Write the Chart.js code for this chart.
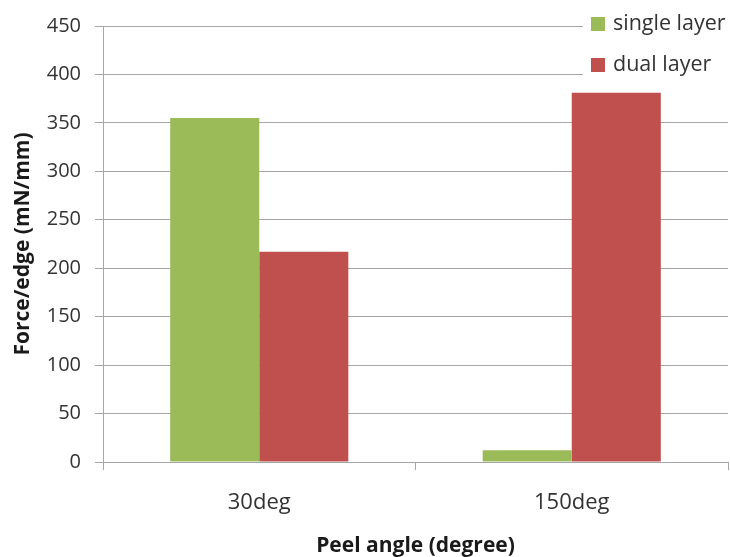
<!DOCTYPE html>
<html>
<head>
<meta charset="utf-8">
<script src="https://cdn.jsdelivr.net/npm/chart.js@4"></script>
<style>
  html, body { margin: 0; padding: 0; background: #fff; }
  #wrap { width: 730px; height: 557px; }
</style>
</head>
<body>
<div id="wrap"><canvas id="c" width="730" height="557"></canvas></div>
<script>
// Peel test results: force per edge at two peel angles
const categories = ['30deg', '150deg'];
const singleLayer = [355, 12];
const dualLayer = [217, 381];
const seriesNames = ['single layer', 'dual layer'];
const yTicks = { min: 0, max: 450, step: 50 };

const GREEN = '#9BBB59';
const RED = '#C0504D';
const GRID = '#A6A6A6';
const TEXT = '#333333';
const FONT = '"Open Sans", "DejaVu Sans", sans-serif';

// Legend drawn in the top-right corner, over the plot
const cornerLegend = {
  id: 'cornerLegend',
  afterDatasetsDraw(chart) {
    const ctx = chart.ctx;
    ctx.save();
    ctx.fillStyle = '#fff';
    ctx.fillRect(583, 0, 147, 82);
    ctx.font = '21.5px ' + FONT;
    ctx.textBaseline = 'middle';
    ctx.textAlign = 'left';
    chart.data.datasets.forEach((ds, i) => {
      const y = 17 + i * 41;
      ctx.fillStyle = ds.backgroundColor;
      ctx.fillRect(591, y, 14, 14);
      ctx.fillStyle = TEXT;
      ctx.fillText(ds.label, 613, y + 7);
    });
    ctx.restore();
  }
};

new Chart(document.getElementById('c'), {
  type: 'bar',
  data: {
    labels: categories,
    datasets: [
      { label: seriesNames[0], data: singleLayer, backgroundColor: GREEN },
      { label: seriesNames[1], data: dualLayer, backgroundColor: RED }
    ]
  },
  options: {
    responsive: false,
    animation: false,
    layout: { padding: { top: 25, right: 2, left: 0, bottom: 0 } },
    plugins: { legend: { display: false }, tooltip: { enabled: false } },
    datasets: { bar: { categoryPercentage: 0.57, barPercentage: 1.0 } },
    scales: {
      x: {
        afterFit(scale) { scale.height = 95; },
        grid: { drawOnChartArea: false, drawTicks: true, tickLength: 8, color: GRID, offset: true },
        border: { display: true, color: GRID, width: 1 },
        ticks: { color: TEXT, font: { family: FONT, size: 22 }, padding: 20 },
        title: {
          display: true, text: 'Peel angle (degree)', color: '#1a1a1a',
          font: { family: FONT, size: 21, weight: 'bold', lineHeight: 1.0 }, padding: { top: 0, bottom: 0 }
        }
      },
      y: {
        min: yTicks.min, max: yTicks.max,
        afterFit(scale) { scale.width = 103; },
        grid: { color: GRID, tickLength: 8, drawTicks: true },
        border: { display: true, color: GRID, width: 1 },
        ticks: { stepSize: yTicks.step, color: TEXT, font: { family: FONT, size: 20 }, padding: 14 },
        title: {
          display: true, text: 'Force/edge (mN/mm)', color: '#1a1a1a',
          font: { family: FONT, size: 21, weight: 'bold' }, padding: { top: 10, bottom: 0 }
        }
      }
    }
  },
  plugins: [cornerLegend]
});
</script>
</body>
</html>
